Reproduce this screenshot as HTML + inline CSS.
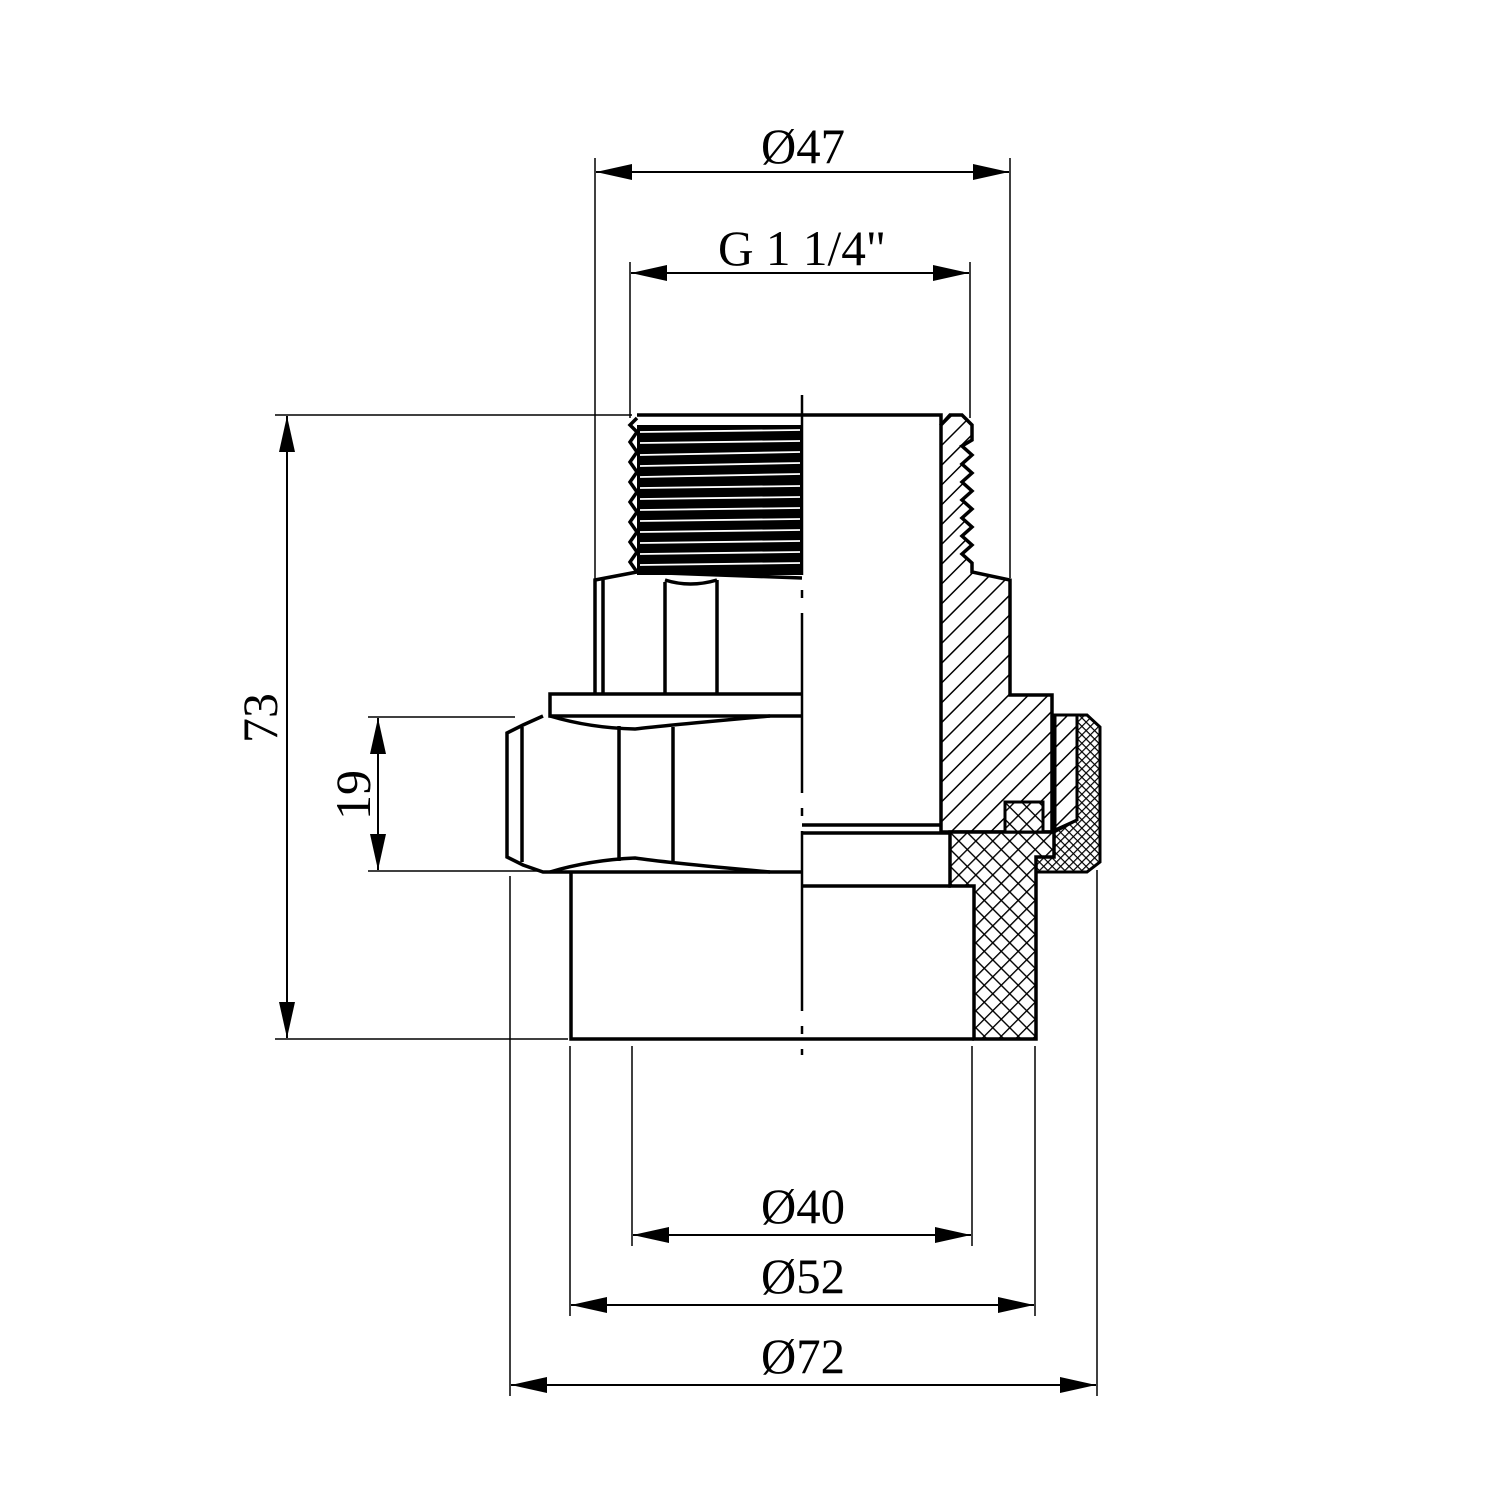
<!DOCTYPE html>
<html><head><meta charset="utf-8"><style>
html,body{margin:0;padding:0;background:#fff}
svg{display:block}
text{font-family:"Liberation Serif",serif;font-size:50px;fill:#000}
</style></head><body>
<svg width="1500" height="1500" viewBox="0 0 1500 1500" xmlns="http://www.w3.org/2000/svg">
<defs>
<pattern id="diag" width="14" height="14" patternUnits="userSpaceOnUse" patternTransform="rotate(45)">
<rect width="14" height="14" fill="#fff"/><line x1="0" y1="0" x2="0" y2="14" stroke="#000" stroke-width="3"/>
</pattern>
<pattern id="cross" width="12" height="12" patternUnits="userSpaceOnUse" patternTransform="rotate(45)">
<rect width="12" height="12" fill="#fff"/><line x1="0" y1="0" x2="0" y2="12" stroke="#000" stroke-width="2.8"/><line x1="0" y1="0" x2="12" y2="0" stroke="#000" stroke-width="2.8"/>
</pattern>
<pattern id="dark" width="6" height="6" patternUnits="userSpaceOnUse" patternTransform="rotate(45)">
<rect width="6" height="6" fill="#fff"/><line x1="0" y1="0" x2="0" y2="6" stroke="#000" stroke-width="2.4"/><line x1="0" y1="0" x2="6" y2="0" stroke="#000" stroke-width="2.4"/>
</pattern>
<marker id="a" viewBox="0 0 36 16" refX="36" refY="8" markerWidth="36" markerHeight="16" markerUnits="userSpaceOnUse" orient="auto-start-reverse">
<path d="M0,0 L36,8 L0,16 Z" fill="#000"/>
</marker>
</defs>

<g stroke="#000" stroke-width="1.5" fill="none">
<line x1="595" y1="158" x2="595" y2="580"/>
<line x1="1010" y1="158" x2="1010" y2="578"/>
<line x1="630" y1="262" x2="630" y2="418"/>
<line x1="970" y1="262" x2="970" y2="418"/>
<line x1="275" y1="415" x2="632" y2="415"/>
<line x1="275" y1="1039" x2="568" y2="1039"/>
<line x1="368" y1="717" x2="515" y2="717"/>
<line x1="368" y1="871" x2="540" y2="871"/>
<line x1="632" y1="1046" x2="632" y2="1246"/>
<line x1="972" y1="1046" x2="972" y2="1246"/>
<line x1="570" y1="1046" x2="570" y2="1316"/>
<line x1="1035" y1="1046" x2="1035" y2="1316"/>
<line x1="510" y1="876" x2="510" y2="1396"/>
<line x1="1097" y1="870" x2="1097" y2="1396"/>
</g>
<g stroke="#000" stroke-width="2" fill="none" marker-start="url(#a)" marker-end="url(#a)">
<line x1="596" y1="172" x2="1009" y2="172"/>
<line x1="631" y1="273" x2="969" y2="273"/>
<line x1="287" y1="416" x2="287" y2="1038"/>
<line x1="378" y1="718" x2="378" y2="870"/>
<line x1="633" y1="1235" x2="971" y2="1235"/>
<line x1="571" y1="1305" x2="1034" y2="1305"/>
<line x1="511" y1="1385" x2="1096" y2="1385"/>
</g>
<text x="803" y="163" text-anchor="middle" textLength="84" lengthAdjust="spacingAndGlyphs">Ø47</text>
<text x="802" y="265" text-anchor="middle" textLength="168" lengthAdjust="spacingAndGlyphs">G 1 1/4"</text>
<text x="803" y="1223" text-anchor="middle" textLength="84" lengthAdjust="spacingAndGlyphs">Ø40</text>
<text x="803" y="1293" text-anchor="middle" textLength="84" lengthAdjust="spacingAndGlyphs">Ø52</text>
<text x="803" y="1373" text-anchor="middle" textLength="84" lengthAdjust="spacingAndGlyphs">Ø72</text>
<text transform="translate(277,718) rotate(-90)" text-anchor="middle">73</text>
<text transform="translate(370,795) rotate(-90)" text-anchor="middle">19</text>

<path d="M941,425 L950,415 L962,415 L972,425 L972,440 L962,446 L972,455 L962,464 L972,473 L962,482 L972,491 L962,500 L972,509 L962,518 L972,527 L962,536 L972,545 L962,554 L972,563 L972,572 L1010,580 L1010,695 L1052,695 L1052,832 L941,832 Z" fill="url(#diag)" stroke="#000" stroke-width="3.5"/>
<path d="M1055,715 L1077,715 L1077,820 L1055,830 Z" fill="url(#diag)" stroke="#000" stroke-width="3"/>
<path d="M1077,715 L1087,715 L1100,727 L1100,862 L1087,872 L1036,872 L1036,857 L1054,857 L1054,832 L1077,820 Z" fill="url(#dark)" stroke="#000" stroke-width="3"/>
<path d="M950,832 L1054,832 L1054,857 L1036,857 L1036,1039 L974,1039 L974,886 L950,886 Z" fill="url(#cross)" stroke="#000" stroke-width="3.5"/>
<rect x="1005" y="802" width="38" height="30" fill="url(#cross)" stroke="#000" stroke-width="3"/>

<rect x="637" y="425" width="165" height="150" fill="#000"/>
<g stroke="#fff" stroke-width="1.8">
<line x1="640" y1="432" x2="800" y2="430"/><line x1="640" y1="443" x2="800" y2="441"/>
<line x1="640" y1="455" x2="800" y2="452"/><line x1="640" y1="466" x2="800" y2="463"/>
<line x1="640" y1="477" x2="800" y2="474"/><line x1="640" y1="488" x2="800" y2="486"/>
<line x1="640" y1="499" x2="800" y2="497"/><line x1="640" y1="510" x2="800" y2="508"/>
<line x1="640" y1="521" x2="800" y2="519"/><line x1="640" y1="532" x2="800" y2="530"/>
<line x1="640" y1="543" x2="800" y2="541"/><line x1="640" y1="554" x2="800" y2="552"/>
<line x1="640" y1="565" x2="800" y2="563"/>
</g>
<path d="M637,415 L802,415 M802,415 L941,415 L941,425 M637,418 L630,425 L637,432 L630,442 L637,452 L630,462 L637,472 L630,482 L637,492 L630,502 L637,512 L630,522 L637,532 L630,542 L637,552 L630,562 L637,572" fill="none" stroke="#000" stroke-width="3.5"/>

<g fill="none" stroke="#000" stroke-width="3.5">
<path d="M595,695 L595,580 L637,572 L802,578"/>
<path d="M665,580 Q690,588 717,580"/>
<line x1="603" y1="580" x2="603" y2="695"/>
<line x1="665" y1="582" x2="665" y2="695"/>
<line x1="717" y1="580" x2="717" y2="695"/>
<path d="M802,694 L550,694 L550,716 L802,716"/>
<path d="M543,716 L523,725 L507,733 L507,857 L523,865 L543,872 L802,872"/>
<line x1="522" y1="727" x2="522" y2="862"/>
<path d="M550,716 Q590,728 635,729 Q660,726 770,716"/>
<path d="M550,872 Q590,860 635,858 Q660,862 770,872"/>
<line x1="619" y1="726" x2="619" y2="861"/>
<line x1="673" y1="727" x2="673" y2="862"/>
<path d="M571,872 L571,1039 L974,1039"/>
<line x1="802" y1="886" x2="951" y2="886"/>
<line x1="802" y1="825" x2="941" y2="825"/>
<line x1="802" y1="833" x2="950" y2="833"/>
</g>
<path d="M802,395 L802,1055" stroke="#000" stroke-width="2.5" stroke-dasharray="180,15,8,15"/>
</svg>
</body></html>
